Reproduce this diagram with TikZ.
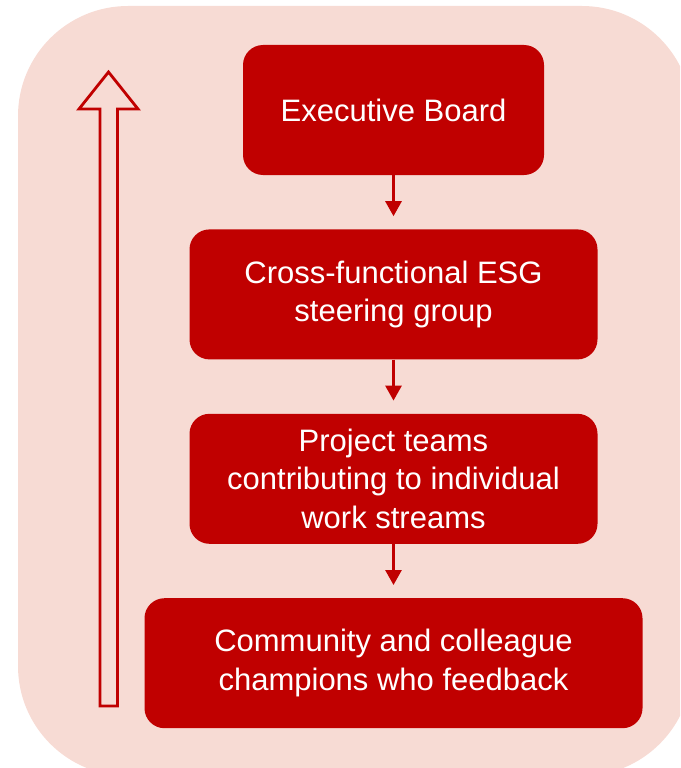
\documentclass[tikz,border=0pt]{standalone}
\usepackage{fontspec}
\setmainfont{Liberation Sans}
\usepackage{tikz}
\usetikzlibrary{positioning, arrows.meta}
\definecolor{boxred}{HTML}{C00000}
\definecolor{bgpink}{HTML}{F7DBD4}
\tikzset{>={Triangle[width=16pt, length=15pt]}}

\begin{document}
\begin{tikzpicture}
    [x=1pt, y=-1pt, node distance=54pt,
     level/.style={fill=boxred, text=white, rounded corners=20pt, minimum height=130pt,
                   align=center, font=\fontsize{31}{38.5}\selectfont},
     flow/.style={->, draw=boxred, line width=2.8pt, shorten >=13pt}]
    \useasboundingbox (0,0) rectangle (680,768);
    \clip (0,0) rectangle (680,768);
    \fill [bgpink, rounded corners=110pt] (18,6) rectangle (692,776);

    \node [level, minimum width=301pt] (board) at (393.5,110) {Executive Board};
    \node [level, minimum width=408pt, below= of board] (steer) {Cross-functional ESG \\ steering group};
    \node [level, minimum width=408pt, below= of steer] (teams) {Project teams \\ contributing to individual \\ work streams};
    \node [level, minimum width=498pt, below= of teams] (champ) {Community and colleague \\ champions who feedback};

    \draw [flow] (board) -- (steer);
    \draw [flow] (steer) -- (teams);
    \draw [flow] (teams) -- (champ);

    % upward block arrow
    \draw [boxred, fill=bgpink, line width=2.8pt]
      (100,706) -- (100,109) -- (79,109) -- (108.5,72) -- (138,109) -- (117.5,109) -- (117.5,706) -- cycle;
  \end{tikzpicture}
\end{document}
